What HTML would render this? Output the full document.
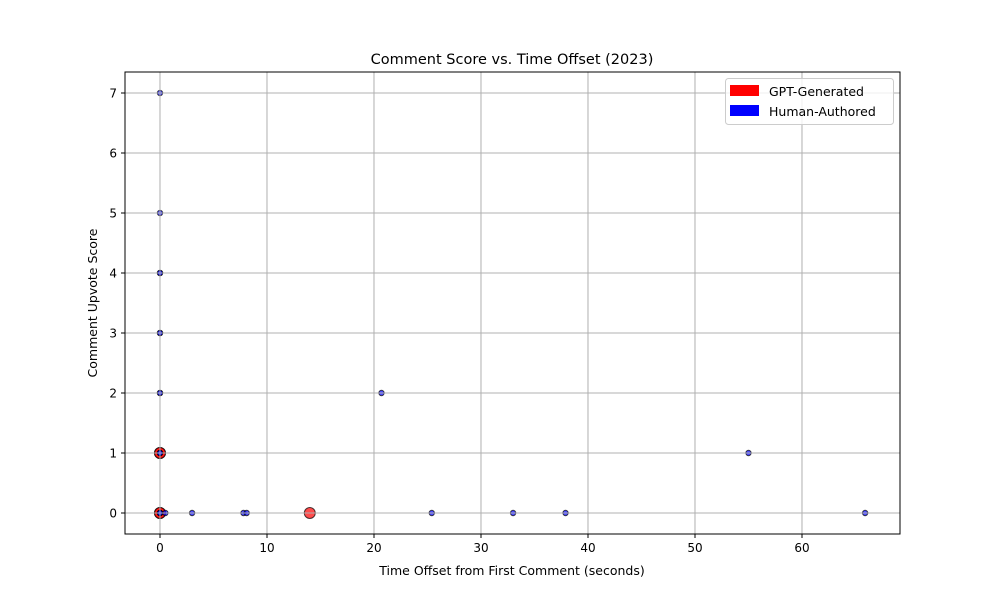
<!DOCTYPE html>
<html><head><meta charset="utf-8"><style>
body{margin:0;background:#fff;font-family:"Liberation Sans","DejaVu Sans",sans-serif}
svg text{font-family:"DejaVu Sans","Liberation Sans",sans-serif;fill:#000}
</style></head><body>
<svg id="chart" width="1000" height="600" xmlns="http://www.w3.org/2000/svg">
<rect width="1000" height="600" fill="#fff"/>
<g id="points"></g>
<g id="grid"></g>
<g id="axes"></g>
<text x="512" y="64" font-size="14.5" text-anchor="middle">Comment Score vs. Time Offset (2023)</text>
<text x="512" y="575" font-size="12.5" text-anchor="middle">Time Offset from First Comment (seconds)</text>
<text x="97" y="303" font-size="12.5" text-anchor="middle" transform="rotate(-90 97 303)">Comment Upvote Score</text>
<g>
<rect x="725.5" y="78.5" width="168" height="46" rx="3" fill="#fff" fill-opacity="0.8" stroke="#ccc"/>
<g>
<rect x="730" y="85" width="29" height="11" fill="#f00"/>
<text x="769" y="96" font-size="12.5">GPT-Generated</text></g>
<g>
<rect x="730" y="105" width="29" height="11" fill="#00f"/>
<text x="769" y="116" font-size="12.5">Human-Authored</text></g>
</g>
</svg>
<script>
const gptX=[0,0,0,0,14];
const gptY=[0,0,1,1,0];
const humanX=[0,0,0,0,0,0,0,0,0,0,0,0,0,0,0,0.5,3,7.8,8.1,20.7,25.4,33,37.9,55,65.9];
const humanY=[7,5,4,4,3,3,2,2,1,1,1,0,0,0,0,0,0,0,0,2,0,0,0,1,0];
const xTicks=[0,10,20,30,40,50,60];
const yTicks=[0,1,2,3,4,5,6,7];
const L=125,R=900,T=72,B=534,xmin=-3.27,xmax=69.16,ymin=-0.35,ymax=7.35;
const sx=v=>L+(v-xmin)/(xmax-xmin)*(R-L);
const sy=v=>B-(v-ymin)/(ymax-ymin)*(B-T);
const NS='http://www.w3.org/2000/svg';
function mk(p,tag,a){const e=document.createElementNS(NS,tag);for(const k in a)e.setAttribute(k,a[k]);p.appendChild(e);return e;}
const grid=document.getElementById('grid'),pts=document.getElementById('points'),ax=document.getElementById('axes');
xTicks.forEach(t=>{const x=sx(t);
const g=mk(grid,'line',{x1:x,x2:x,y1:T,y2:B,stroke:'#b0b0b0','stroke-width':1});


mk(ax,'line',{x1:x,x2:x,y1:B,y2:B+4,stroke:'#000'});
const tx=mk(ax,'text',{x:x,y:B+18,'font-size':12,'text-anchor':'middle'});tx.textContent=t;

});
yTicks.forEach(t=>{const y=sy(t);
const g=mk(grid,'line',{x1:L,x2:R,y1:y,y2:y,stroke:'#b0b0b0','stroke-width':1});


mk(ax,'line',{x1:L-4,x2:L,y1:y,y2:y,stroke:'#000'});
const tx=mk(ax,'text',{x:L-8,y:y+4.5,'font-size':12,'text-anchor':'end'});tx.textContent=t;

});
mk(ax,'rect',{x:L,y:T,width:R-L,height:B-T,fill:'none',stroke:'#000','stroke-width':1});
gptX.forEach((v,i)=>{const c=mk(pts,'circle',{cx:sx(v),cy:sy(gptY[i]),r:5.5,fill:'#ff0000','fill-opacity':0.7,stroke:'#000','stroke-opacity':0.7,'stroke-width':1});

});
humanX.forEach((v,i)=>{const c=mk(pts,'circle',{cx:sx(v),cy:sy(humanY[i]),r:2.7,fill:'#0000ff','fill-opacity':0.7,stroke:'#000','stroke-opacity':0.7,'stroke-width':1});

});
</script>
</body></html>
